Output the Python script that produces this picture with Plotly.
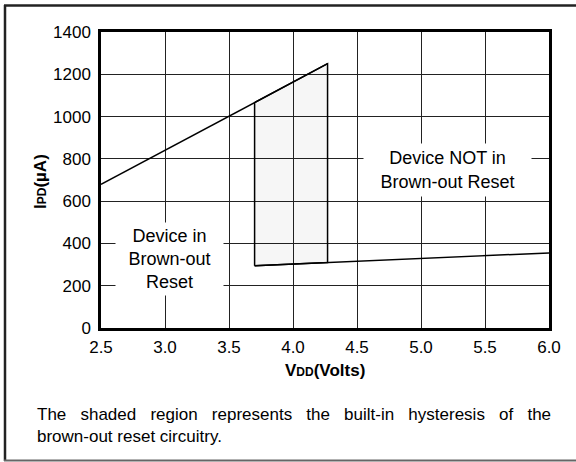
import plotly.graph_objects as go

# ---- data ----
upper_x = [2.5, 4.27]
upper_y = [680, 1250]
lower_x = [3.7, 6.0]
lower_y = [295, 355]
hyst_x = [3.7, 3.7, 4.27, 4.27, 3.7]
hyst_y = [295, 1066, 1250, 310, 295]
x_ticks = [2.5, 3.0, 3.5, 4.0, 4.5, 5.0, 5.5, 6.0]
y_ticks = [0, 200, 400, 600, 800, 1000, 1200, 1400]

FONT = "Liberation Sans, Arial, Helvetica, sans-serif"
NB = "\u00a0"

fig = go.Figure()
fig.add_trace(go.Scatter(x=hyst_x, y=hyst_y, mode="lines", fill="toself",
                         fillcolor="rgba(0,0,0,0.035)",
                         line=dict(color="black", width=1.5), hoverinfo="skip"))
fig.add_trace(go.Scatter(x=upper_x, y=upper_y, mode="lines",
                         line=dict(color="black", width=1.5), hoverinfo="skip"))
fig.add_trace(go.Scatter(x=lower_x, y=lower_y, mode="lines",
                         line=dict(color="black", width=1.5), hoverinfo="skip"))

L, T, PW, PH = 101, 32, 448, 296
W, H = 576, 462


def px(xp):
    return (xp - L) / PW


def py(yp):
    return (T + PH - yp) / PH


def dx(xp):
    return 2.5 + (xp - L) / PW * 3.5


def dy(yp):
    return (T + PH - yp) / PH * 1400


annotations = [
    dict(x=dx(447), y=dy(170), xref="x", yref="y", text="Device NOT in<br>Brown-out Reset",
         showarrow=False, bgcolor="white", width=165, height=50,
         xanchor="center", yanchor="middle",
         font=dict(family=FONT, size=18, color="black")),
    dict(x=dx(169.5), y=dy(259), xref="x", yref="y", text="Device in<br>Brown-out<br>Reset",
         showarrow=False, bgcolor="white", width=105, height=70,
         xanchor="center", yanchor="middle",
         font=dict(family=FONT, size=18, color="black")),
    dict(x=px(325), y=py(370), xref="paper", yref="paper",
         xanchor="center", yanchor="middle",
         text="<b>V<span style='font-size:12px'>DD</span>(Volts)</b>",
         showarrow=False, font=dict(family=FONT, size=17, color="black")),
    dict(x=px(40), y=py(182), xref="paper", yref="paper", textangle=-90,
         xanchor="center", yanchor="middle",
         text="<b>I<span style='font-size:12px'>PD</span>(\u00b5A)</b>",
         showarrow=False, font=dict(family=FONT, size=17, color="black")),
    dict(x=px(35), y=py(414), xref="paper", yref="paper", xanchor="left", yanchor="middle",
         text=(NB * 3).join("The shaded region represents the built-in hysteresis of the".split(" ")),
         showarrow=False, font=dict(family=FONT, size=17, color="black")),
    dict(x=px(35), y=py(436), xref="paper", yref="paper", xanchor="left", yanchor="middle",
         text="brown-out reset circuitry.",
         showarrow=False, font=dict(family=FONT, size=17, color="black")),
]

shapes = [
    dict(type="line", xref="paper", yref="paper", x0=px(5), x1=px(5), y0=py(5), y1=py(461),
         line=dict(color="#222", width=2.5)),
    dict(type="line", xref="paper", yref="paper", x0=px(4), x1=px(580), y0=py(5.5), y1=py(5.5),
         line=dict(color="#222", width=2.5)),
    dict(type="line", xref="paper", yref="paper", x0=px(4), x1=px(580), y0=py(460.5), y1=py(460.5),
         line=dict(color="#666", width=2)),
]

fig.update_layout(
    width=W, height=H,
    margin=dict(l=L, r=W - L - PW, t=T, b=H - T - PH, pad=0),
    paper_bgcolor="white", plot_bgcolor="white",
    showlegend=False,
    font=dict(family=FONT, size=17, color="black"),
    annotations=annotations,
    shapes=shapes,
    xaxis=dict(range=[2.5, 6.0], tickvals=x_ticks, tickformat=".1f",
               showgrid=True, gridcolor="#222", gridwidth=1,
               showline=True, linecolor="black", linewidth=2.5, mirror=True,
               ticks="outside", ticklen=2, tickcolor="rgba(0,0,0,0)",
               zeroline=False, fixedrange=True,
               tickfont=dict(family=FONT, size=17, color="black")),
    yaxis=dict(range=[0, 1400], tickvals=y_ticks,
               showgrid=True, gridcolor="#222", gridwidth=1,
               showline=True, linecolor="black", linewidth=2.5, mirror=True,
               ticks="outside", ticklen=4, tickcolor="rgba(0,0,0,0)",
               zeroline=False, fixedrange=True,
               tickfont=dict(family=FONT, size=17, color="black")),
)

fig.write_html("out.html", config={"displayModeBar": False},
               post_script="document.body.style.margin='0px';document.body.style.padding='0px';")
